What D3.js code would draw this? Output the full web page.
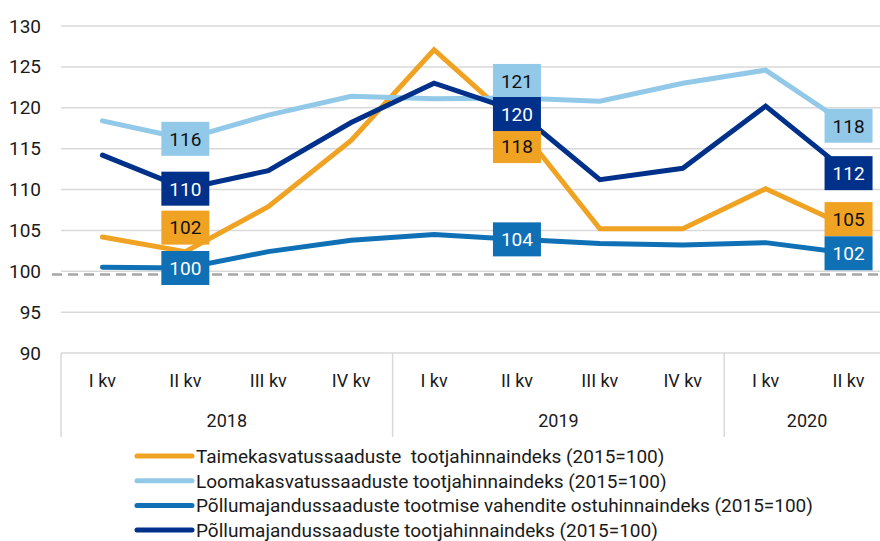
<!DOCTYPE html>
<html lang="et">
<head>
<meta charset="UTF-8">
<title>Hinnaindeksid</title>
<script src="https://cdn.jsdelivr.net/npm/d3@7"></script>
<style>
  body { margin: 0; background: #fff; }
  svg text { font-family: Roboto, "Liberation Sans", sans-serif; fill: #1a1a1a; }
</style>
</head>
<body>
<div id="chart"></div>
<script>
// quarters and years
var quarters = ["I kv", "II kv", "III kv", "IV kv", "I kv", "II kv", "III kv", "IV kv", "I kv", "II kv"];
var years = ["2018", "2019", "2020"];
var yearSpan = [4, 4, 2];

// series values (2015=100)
var taime  = [104.2, 102.4, 107.9, 116.0, 127.1, 118.0, 105.2, 105.2, 110.1, 105.4];
var looma  = [118.4, 116.2, 119.1, 121.4, 121.1, 121.2, 120.8, 123.0, 124.6, 117.8];
var sisend = [100.5, 100.4, 102.4, 103.8, 104.5, 103.9, 103.4, 103.2, 103.5, 102.2];
var tootja = [114.2, 110.1, 112.3, 118.2, 123.0, 119.6, 111.2, 112.6, 120.2, 112.0];

var seriesNames = [
  "Taimekasvatussaaduste  tootjahinnaindeks (2015=100)",
  "Loomakasvatussaaduste tootjahinnaindeks (2015=100)",
  "Põllumajandussaaduste tootmise vahendite ostuhinnaindeks (2015=100)",
  "Põllumajandussaaduste tootjahinnaindeks (2015=100)"
];
var yTicks = [90, 95, 100, 105, 110, 115, 120, 125, 130];
var labelAt = [1, 5, 9];   // quarters that carry value boxes
var baseValue = 99.6;      // grey dashed reference

var series = [
  {name: seriesNames[0], values: taime,  color: "#f0a323", text: "#111"},
  {name: seriesNames[1], values: looma,  color: "#93c9e8", text: "#111"},
  {name: seriesNames[2], values: sisend, color: "#0f70b5", text: "#fff"},
  {name: seriesNames[3], values: tootja, color: "#00318a", text: "#fff"}
];
// hand nudges for boxes so they don't sit on each other (series index -> quarter -> px)
var nudge = {0: {1: -24, 5: 22, 9: -8}, 1: {5: -17}, 3: {5: 3}};

var W = 880, H = 541;
var plotL = 61, plotT = 26, plotB = 353;
var slot = 82.9;

var svg = d3.select("#chart").append("svg")
  .attr("width", W).attr("height", H);

var x = d3.scaleBand()
  .domain(d3.range(quarters.length))
  .range([plotL, plotL + slot * quarters.length]);

var y = d3.scaleLinear().domain([90, 130]).range([plotB, plotT]);

// gridlines
svg.append("g").selectAll("line")
  .data(yTicks)
  .enter().append("line")
  .attr("x1", plotL).attr("x2", W)
  .attr("y1", function(d){ return y(d); })
  .attr("y2", function(d){ return y(d); })
  .attr("stroke", "#d9d9d9")
  .attr("stroke-width", 1.5);

// y tick labels
var yAxis = svg.append("g")
  .attr("transform", "translate(" + (plotL - 20) + ",0)")
  .call(d3.axisLeft(y).tickValues(yTicks).tickSize(0).tickPadding(0));
yAxis.select(".domain").remove();
yAxis.selectAll("text")
  .attr("font-size", 19)
  .attr("fill", "#1a1a1a")
  .style("font-family", "Roboto, sans-serif");

// category area separators
var seps = [0];
yearSpan.forEach(function(n, i){ seps.push(seps[i] + n); });
svg.append("g").selectAll("line")
  .data(seps.slice(0, -1))
  .enter().append("line")
  .attr("x1", function(d){ return x(d); })
  .attr("x2", function(d){ return x(d); })
  .attr("y1", plotB).attr("y2", 437)
  .attr("stroke", "#d9d9d9").attr("stroke-width", 1.5);

// quarter labels
svg.append("g").selectAll("text")
  .data(quarters)
  .enter().append("text")
  .attr("x", function(d, i){ return x(i) + x.bandwidth() / 2; })
  .attr("y", 387)
  .attr("text-anchor", "middle")
  .attr("font-size", 18)
  .text(function(d){ return d; });

// year labels
svg.append("g").selectAll("text")
  .data(years)
  .enter().append("text")
  .attr("x", function(d, i){ return (x(seps[i]) + x(seps[i + 1] - 1) + x.bandwidth()) / 2; })
  .attr("y", 427)
  .attr("text-anchor", "middle")
  .attr("font-size", 18)
  .text(function(d){ return d; });

// dashed 100 line
svg.append("line")
  .attr("x1", 52).attr("x2", W)
  .attr("y1", y(baseValue)).attr("y2", y(baseValue))
  .attr("stroke", "#a6a6a6")
  .attr("stroke-width", 2.5)
  .attr("stroke-dasharray", "10,6");

var line = d3.line()
  .x(function(d, i){ return x(i) + x.bandwidth() / 2; })
  .y(function(d){ return y(d); });

svg.append("g").selectAll("path")
  .data(series)
  .enter().append("path")
  .attr("d", function(s){ return line(s.values); })
  .attr("fill", "none")
  .attr("stroke", function(s){ return s.color; })
  .attr("stroke-width", 5)
  .attr("stroke-linecap", "round")
  .attr("stroke-linejoin", "miter");

// value boxes
var boxes = [];
series.forEach(function(s, si){
  labelAt.forEach(function(q){
    var dy = (nudge[si] && nudge[si][q]) || 0;
    boxes.push({s: s, q: q, v: s.values[q], dy: dy});
  });
});
var bw = 48, bh = 34;
var bg = svg.append("g").selectAll("g")
  .data(boxes)
  .enter().append("g")
  .attr("transform", function(d){
    return "translate(" + (x(d.q) + x.bandwidth() / 2) + "," + (y(d.v) + d.dy) + ")";
  });
bg.append("rect")
  .attr("x", -bw / 2).attr("y", -bh / 2)
  .attr("width", bw).attr("height", bh)
  .attr("fill", function(d){ return d.s.color; });
bg.append("text")
  .attr("text-anchor", "middle")
  .attr("dy", "0.36em")
  .attr("font-size", 19)
  .style("fill", function(d){ return d.s.text; })
  .text(function(d){ return Math.round(d.v); });

// legend
var lg = svg.append("g").selectAll("g")
  .data(series)
  .enter().append("g")
  .attr("transform", function(d, i){ return "translate(137," + (456 + i * 24.7) + ")"; });
lg.append("line")
  .attr("x1", 0).attr("x2", 55)
  .attr("stroke", function(d){ return d.color; })
  .attr("stroke-width", 5)
  .attr("stroke-linecap", "round");
lg.append("text")
  .attr("x", 59)
  .attr("dy", "0.36em")
  .attr("font-size", 19)
  .style("white-space", "pre")
  .text(function(d){ return d.name; });
</script>
</body>
</html>
